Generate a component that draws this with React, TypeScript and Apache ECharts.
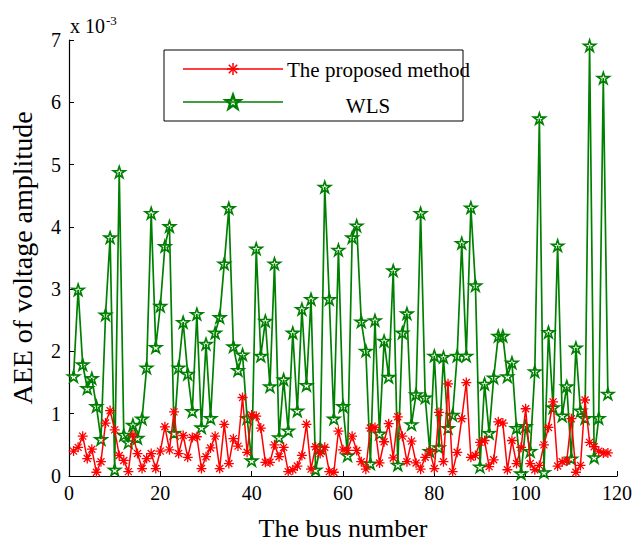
import React, { useEffect, useRef } from "react";
import * as echarts from "echarts";

// AEE of voltage amplitude (x 10^-3) for buses 1..118
const proposedMethod: number[] = [
  0.40, 0.46, 0.64, 0.28, 0.43, 0.06, 0.23, 0.85, 1.05, 0.74,
  0.33, 0.25, 0.07, 0.66, 0.36, 0.12, 0.28, 0.36, 0.12, 0.40,
  0.79, 0.42, 1.03, 0.36, 0.65, 0.30, 0.62, 0.63, 0.12, 0.31,
  0.45, 0.64, 0.12, 0.83, 0.20, 0.60, 0.48, 1.26, 0.38, 0.98,
  0.96, 0.77, 0.22, 0.22, 0.50, 0.31, 0.46, 0.07, 0.10, 0.16,
  0.33, 0.83, 0.11, 0.47, 0.36, 0.46, 0.07, 0.06, 0.72, 0.42,
  0.41, 0.64, 0.41, 0.23, 0.11, 0.77, 0.78, 0.21, 0.55, 0.84,
  0.29, 0.95, 0.64, 0.23, 0.56, 0.21, 0.11, 0.30, 0.40, 0.12,
  1.02, 0.23, 1.48, 0.07, 0.38, 0.92, 1.50, 0.30, 0.33, 0.54,
  0.57, 0.15, 0.26, 0.87, 0.85, 0.10, 0.57, 0.20, 0.46, 1.08,
  0.20, 0.10, 0.17, 0.50, 0.78, 1.19, 0.16, 0.23, 0.24, 0.92,
  0.06, 0.17, 1.22, 0.54, 0.47, 0.40, 0.37, 0.37,
];

const wls: number[] = [
  1.60, 2.99, 1.79, 1.41, 1.57, 1.12, 0.59, 2.59, 3.83, 0.10,
  4.88, 0.66, 0.54, 0.82, 0.61, 0.92, 1.74, 4.22, 2.07, 2.73,
  3.69, 4.01, 0.69, 1.74, 2.47, 1.64, 1.04, 2.60, 0.78, 2.12,
  0.93, 2.30, 2.55, 3.41, 4.30, 2.08, 1.70, 1.95, 0.93, 0.25,
  3.65, 1.93, 2.49, 1.44, 3.41, 0.62, 1.55, 0.73, 2.30, 1.05,
  2.68, 1.46, 2.84, 0.10, 0.45, 4.64, 2.84, 0.92, 3.63, 1.12,
  0.33, 3.83, 4.02, 2.48, 2.01, 0.20, 2.50, 0.68, 2.17, 1.59,
  3.30, 0.18, 2.30, 2.61, 0.83, 1.31, 4.22, 1.26, 0.40, 1.93,
  0.46, 1.91, 0.77, 0.98, 1.93, 3.74, 1.93, 4.31, 3.06, 0.15,
  1.48, 0.69, 1.58, 2.25, 2.25, 1.60, 1.82, 0.77, 0.04, 0.80,
  0.40, 1.68, 5.74, 0.06, 2.31, 1.10, 3.70, 0.97, 1.44, 0.28,
  2.06, 1.05, 0.93, 6.91, 0.30, 0.93, 6.39, 1.32,
];

const xTicks = { min: 0, max: 120, interval: 20 };
const yTicks = { min: 0, max: 7, interval: 1 };
const seriesNames = ["The proposed method", "WLS"];

const RED = "#ff0000";
const GREEN = "#008000";
const FONT = "'Liberation Serif', 'Times New Roman', serif";

const STAR_PATH =
  "path://M50 0 L61.17 34.63 L97.55 34.55 L68.07 55.87 L79.39 90.45 L50 69 L20.61 90.45 L31.93 55.87 L2.45 34.55 L38.83 34.63 Z";
const AST_PATH =
  "path://M50 0 L50 100 M0 50 L100 50 M15 15 L85 85 M85 15 L15 85";

function starPoints(cx: number, cy: number, R: number, r: number) {
  const pts: number[][] = [];
  for (let k = 0; k < 10; k++) {
    const ang = ((-90 + k * 36) * Math.PI) / 180;
    const rad = k % 2 === 0 ? R : r;
    pts.push([cx + rad * Math.cos(ang), cy + rad * Math.sin(ang)]);
  }
  return pts;
}

function asterisk(cx: number, cy: number, h: number, color: string) {
  const d = h * 0.7;
  const segs = [
    [cx, cy - h, cx, cy + h],
    [cx - h, cy, cx + h, cy],
    [cx - d, cy - d, cx + d, cy + d],
    [cx + d, cy - d, cx - d, cy + d],
  ];
  return segs.map((s) => ({
    type: "line",
    shape: { x1: s[0], y1: s[1], x2: s[2], y2: s[3] },
    style: { stroke: color, lineWidth: 1.5 },
  }));
}

export default function App() {
  const ref = useRef<HTMLDivElement>(null);

  useEffect(() => {
    if (!ref.current) return;
    const chart = echarts.init(ref.current, undefined, { renderer: "svg" });

    const option: any = {
      animation: false,
      backgroundColor: "#ffffff",
      grid: { left: 61, right: 24, top: 40, bottom: 53, containLabel: false },
      xAxis: {
        type: "value",
        min: xTicks.min,
        max: xTicks.max,
        interval: xTicks.interval,
        name: "The bus number",
        nameLocation: "middle",
        nameGap: 39,
        nameTextStyle: { fontFamily: FONT, fontSize: 26, color: "#000" },
        axisLine: { show: true, onZero: false, lineStyle: { color: "#000", width: 1.2 } },
        axisTick: { show: true, inside: true, length: 5, lineStyle: { color: "#000" } },
        axisLabel: { fontFamily: FONT, fontSize: 20, color: "#000", margin: 7 },
        splitLine: { show: false },
      },
      yAxis: {
        type: "value",
        min: yTicks.min,
        max: yTicks.max,
        interval: yTicks.interval,
        name: "AEE of voltage amplitude",
        nameLocation: "middle",
        nameGap: 33,
        nameTextStyle: { fontFamily: FONT, fontSize: 28, color: "#000" },
        axisLine: { show: true, onZero: false, lineStyle: { color: "#000", width: 1.2 } },
        axisTick: { show: true, inside: true, length: 5, lineStyle: { color: "#000" } },
        axisLabel: { fontFamily: FONT, fontSize: 20, color: "#000", margin: 8 },
        splitLine: { show: false },
      },
      series: [
        {
          type: "line",
          name: seriesNames[1],
          data: wls.map((v, i) => [i + 1, v]),
          symbol: STAR_PATH,
          symbolSize: 12,
          symbolKeepAspect: true,
          showSymbol: true,
          silent: true,
          z: 2,
          lineStyle: { color: GREEN, width: 1.7 },
          itemStyle: { color: "rgba(0,0,0,0)", borderColor: GREEN, borderWidth: 1.6 },
        },
        {
          type: "line",
          name: seriesNames[0],
          data: proposedMethod.map((v, i) => [i + 1, v]),
          symbol: AST_PATH,
          symbolSize: 10,
          symbolKeepAspect: true,
          showSymbol: true,
          silent: true,
          z: 3,
          lineStyle: { color: RED, width: 1.5 },
          itemStyle: { color: RED, borderColor: RED, borderWidth: 1.3 },
        },
      ],
      graphic: [
        {
          type: "text",
          x: 70,
          y: 14,
          style: {
            text: "{a|x 10}{b|-3}",
            fill: "#000",
            align: "left",
            verticalAlign: "top",
            rich: {
              a: { fontFamily: FONT, fontSize: 20, lineHeight: 22, verticalAlign: "bottom", fill: "#000" },
              b: { fontFamily: FONT, fontSize: 13, lineHeight: 22, verticalAlign: "top", fill: "#000", padding: [0, 0, 8, 1] },
            },
          },
        },
        {
          type: "rect",
          z: 10,
          shape: { x: 164, y: 50, width: 299, height: 71 },
          style: { fill: "#fff", stroke: "#000", lineWidth: 1 },
        },
        {
          type: "line",
          z: 11,
          shape: { x1: 183, y1: 69, x2: 283, y2: 69 },
          style: { stroke: RED, lineWidth: 1.5 },
        },
        ...asterisk(233, 69, 6, RED).map((e) => ({ ...e, z: 12 })),
        {
          type: "text",
          z: 12,
          x: 287,
          y: 70,
          style: { text: seriesNames[0], font: `21px ${FONT}`, fill: "#000", align: "left", verticalAlign: "middle" },
        },
        {
          type: "line",
          z: 11,
          shape: { x1: 183, y1: 102, x2: 283, y2: 102 },
          style: { stroke: GREEN, lineWidth: 1.7 },
        },
        {
          type: "polygon",
          z: 12,
          shape: { points: starPoints(233, 102.5, 7.5, 3) },
          style: { fill: "rgba(0,0,0,0)", stroke: GREEN, lineWidth: 2.5 },
        },
        {
          type: "text",
          z: 12,
          x: 368,
          y: 106,
          style: { text: seriesNames[1], font: `21px ${FONT}`, fill: "#000", align: "center", verticalAlign: "middle" },
        },
      ],
    };

    chart.setOption(option);
    return () => chart.dispose();
  }, []);

  return <div ref={ref} style={{ width: 641, height: 546, position: "absolute", left: 0, top: 0 }} />;
}
